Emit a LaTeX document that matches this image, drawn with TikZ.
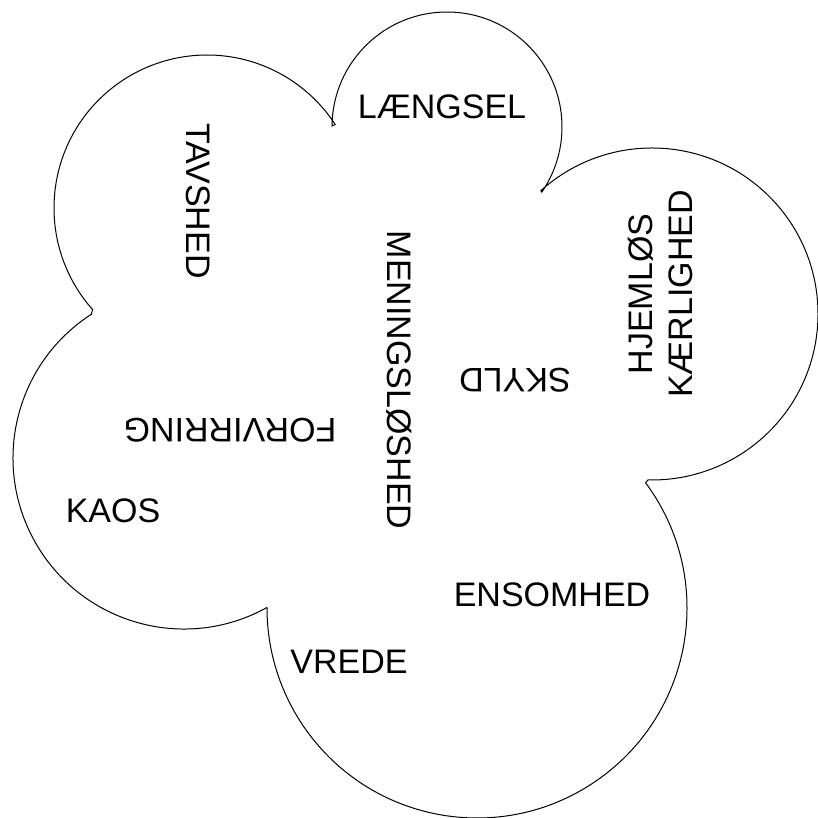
\documentclass[tikz,border=0pt]{standalone}
\usepackage{fontspec}
\setmainfont{Liberation Sans}
\begin{document}
\begin{tikzpicture}[x=1pt,y=1pt,
  word/.style={inner sep=0pt, font=\fontsize{34}{40}\selectfont, text=black},
  outline/.style={draw=black, line width=1pt, line join=miter}]
\useasboundingbox (0,0) rectangle (818,818);
\fill[white] (0,0) rectangle (818,818);
% cloud outline: arcs of five circles, clockwise
\draw[outline]
  ([shift={(207,610)}]221.6:153pt) arc[start angle=221.6, end angle=33.1, radius=153pt]
  -- ([shift={(447,691)}]179.5:115pt) arc[start angle=179.5, end angle=-34.5, radius=115pt]
  -- ([shift={(652,504)}]132:166pt) arc[start angle=132, end angle=-91.4, radius=166pt]
  -- ([shift={(477,210)}]36.6:210pt) arc[start angle=36.6, end angle=-180, radius=210pt]
  -- ([shift={(184,360)}]-61:171pt) arc[start angle=-61, end angle=-237.2, radius=171pt]
  -- cycle;
% words
\node[word] (laengsel) at (442,711) {LÆNGSEL};
\node[word, rotate=-90] (tavshed) at (198,617) {TAVSHED};
\node[word, rotate=-90] (meningsloshed) at (399,438) {MENINGSLØSHED};
\node[word, rotate=180] (skyld) at (515,438) {SKYLD};
\node[word, rotate=180] (forvirring) at (230,388) {FORVIRRING};
\node[word] (kaos) at (113,307) {KAOS};
\node[word, rotate=90, align=center] (hjemlos) at (660,524) {HJEMLØS\\KÆRLIGHED};
\node[word] (ensomhed) at (552,223) {ENSOMHED};
\node[word] (vrede) at (349,156) {VREDE};
\end{tikzpicture}
\end{document}
